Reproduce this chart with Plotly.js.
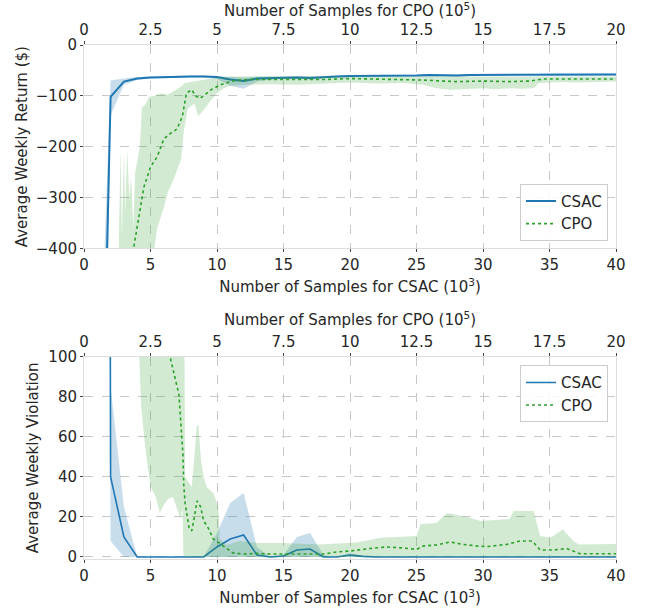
<!DOCTYPE html>
<html>
<head>
<meta charset="utf-8">
<script src="https://cdn.plot.ly/plotly-3.0.1.min.js"></script>
<style>html,body{margin:0;padding:0;background:#fff;}#chart{width:647px;height:608px;}</style>
</head>
<body>
<div id="chart"></div>
<script>
// ---------- DATA ----------
// CSAC: samples in 10^3 (bottom axis)
const csacX = [1,2,3,4,5,6,7,8,9,10,11,12,13,14,15,16,17,18,19,20,21,22,23,24,25,26,27,28,29,30,31,32,33,34,35,36,37,38,39,40];
const csacReturn   = [-1234,-102,-72,-66,-64,-63,-63,-62,-62,-63,-68,-71,-66,-65,-64,-64,-65,-63,-62,-61,-61,-61,-60,-60,-60,-59,-60,-60,-59,-59,-59,-59,-59,-59,-58,-58,-58,-58,-58,-58];
const csacReturnHi = [-800,-70,-66,-63,-62,-61,-61,-60,-60,-61,-63,-64,-62,-62,-62,-62,-62,-61,-60,-59,-59,-59,-58,-58,-58,-57,-58,-58,-57,-57,-57,-57,-57,-57,-56,-56,-56,-56,-56,-56];
const csacReturnLo = [-1700,-138,-78,-69,-66,-65,-65,-64,-64,-67,-80,-86,-72,-68,-66,-66,-68,-65,-64,-63,-63,-63,-62,-62,-62,-61,-62,-62,-61,-61,-61,-61,-61,-61,-60,-60,-60,-60,-60,-60];
const csacViol   = [3000,40,10,0,0,0,0,0,0,5,9,11,1,0,0.5,3.5,4,0,0,1,0.3,0,0,0,0,0,0,0,0,0,0,0,0,0,0,0,0,0,0,0];
const csacViolHi = [6000,85,25,0,0,0,0,0,0,12,27,32,5,0,1,10,12,1,0,2,0.5,0,0,0,0,0,0,0,0,0,0,0,0,0,0,0,0,0,0,0];
const csacViolLo = [1500,8,0,0,0,0,0,0,0,0,0,0,0,0,0,0,0,0,0,0,0,0,0,0,0,0,0,0,0,0,0,0,0,0,0,0,0,0,0,0];

// CPO: samples in 10^5 (top axis)
const cpoRetX    = [1.8,1.9,2.05,2.25,2.5,2.75,3.0,3.25,3.5,3.7,3.85,4.05,4.2,4.35,4.5,4.75,5.1,5.5,5.85,6.25,7,8,9,10,11,12,12.75,13.5,14,15,16,16.75,17.25,18,19,20];
const cpoReturn  = [-420,-390,-345,-280,-240,-220,-185,-174,-165,-140,-95,-88,-100,-105,-100,-89,-79,-72,-69,-68,-68,-68,-68,-66,-67,-67,-69,-71,-72,-71,-72,-71,-67,-67,-67,-67];
const cpoRetHiX  = [1.3,1.375,1.425,1.5,1.55,1.625,1.7,1.775,1.85,1.925,2.0,2.1,2.175,2.3,2.45,2.65,2.9,3.15,3.4,3.65,3.8,4.15,4.5,4.75,5,5.5,6,7,8,9,10,12,14,16,18,20];
const cpoReturnHi= [-420,-200,-380,-210,-330,-205,-300,-260,-360,-250,-230,-200,-122,-118,-102,-100,-95,-98,-90,-82,-75,-72,-68,-66,-64,-62,-62,-62,-62,-62,-62,-62,-63,-63,-62,-62];
const cpoRetLoX  = [1.3,2.6,2.75,3.0,3.15,3.4,3.65,3.75,3.9,4.15,4.3,4.5,4.75,5.0,5.25,5.5,6,7,8,9,10,11,12,12.75,13.25,13.75,14.5,15,15.5,16,16.5,16.9,17.1,18,18.5,20];
const cpoReturnLo= [-420,-420,-360,-320,-290,-260,-225,-170,-125,-115,-140,-128,-110,-95,-85,-80,-78,-77,-78,-76,-74,-76,-75,-78,-85,-88,-86,-85,-87,-85,-86,-85,-75,-73,-74,-72];

const cpoVioX    = [3.2,3.25,3.385,3.57,3.635,3.72,3.75,3.8,3.95,4.05,4.15,4.25,4.385,4.5,4.65,4.86,5.235,5.6,6,6.5,7,7.5,8,8.5,9,9.5,10,10.75,11.35,12,12.5,12.75,13.25,13.75,14.25,14.75,15.15,15.9,16.4,16.85,17.15,17.65,18.15,18.65,20];
const cpoViol    = [102,99,91,81,68,51,36,27,14.6,13,20,28,25,18,15,9,5.5,2,1.5,1.8,1.5,1.5,1.5,1.3,1.5,2.5,3,4.2,5,4.5,3.8,5.5,6,7.5,6.3,5.5,5.2,6.3,8,8,3.5,3.5,4.2,1.6,1.6];
const cpoVioHiX  = [2.05,3.775,3.8,3.86,4.05,4.15,4.235,4.3,4.4,4.5,4.61,4.86,5.05,5.1,5.35,5.85,6.5,7.5,8.85,10.25,11.15,12.5,12.65,13.25,13.65,14.4,14.9,16,16.15,16.9,17.15,17.55,18,18.4,18.6,20];
const cpoViolHi  = [110,110,40,38.7,35,50,65,66,48,40,35,32,25,9,6,8,7,7,6.3,7.2,9.6,10.5,16.3,17,22,20,18,19,23,23,10.5,9.6,13.8,8,6.3,6.5];
const cpoVioLoX  = [2.05,2.15,2.3,2.5,2.7,2.85,3.0,3.15,3.35,3.5,3.635,3.7,3.74,5,10,15,20];
const cpoViolLo  = [110,75,55,35,30,22,26,29,30,24,19,25,0,0,0,0,0];

const xTicksBottom = [0,5,10,15,20,25,30,35,40];
const xTicksTop = [0,2.5,5,7.5,10,12.5,15,17.5,20];

// ---------- STYLE ----------
const BLUE = '#1f77b4', GREEN = '#2ca02c';
const BLUE_FILL = 'rgba(31,119,180,0.25)', GREEN_FILL = 'rgba(44,160,44,0.22)';
const FONT = 'DejaVu Sans';
const TXT = '#262626';

function band(xHi, yHi, xLo, yLo, xa, ya, color) {
  return {
    x: xHi.concat(xLo.slice().reverse()),
    y: yHi.concat(yLo.slice().reverse()),
    xaxis: xa, yaxis: ya, mode: 'lines', fill: 'toself',
    fillcolor: color, line: {width: 0, color: 'rgba(0,0,0,0)'},
    showlegend: false, hoverinfo: 'skip'
  };
}

const traces = [
  band(csacX, csacReturnHi, csacX, csacReturnLo, 'x', 'y', BLUE_FILL),
  {x: csacX, y: csacReturn, xaxis: 'x', yaxis: 'y', mode: 'lines', name: 'CSAC',
   line: {color: BLUE, width: 2}, legend: 'legend'},
  band(cpoRetHiX, cpoReturnHi, cpoRetLoX, cpoReturnLo, 'x2', 'y', GREEN_FILL),
  {x: cpoRetX, y: cpoReturn, xaxis: 'x2', yaxis: 'y', mode: 'lines', name: 'CPO',
   line: {color: GREEN, width: 1.6, dash: 'dot'}, legend: 'legend'},

  band(csacX, csacViolHi, csacX, csacViolLo, 'x3', 'y2', BLUE_FILL),
  {x: csacX, y: csacViol, xaxis: 'x3', yaxis: 'y2', mode: 'lines', name: 'CSAC',
   line: {color: BLUE, width: 1.6}, legend: 'legend2'},
  band(cpoVioHiX, cpoViolHi, cpoVioLoX, cpoViolLo, 'x4', 'y2', GREEN_FILL),
  {x: cpoVioX, y: cpoViol, xaxis: 'x4', yaxis: 'y2', mode: 'lines', name: 'CPO',
   line: {color: GREEN, width: 1.6, dash: 'dot'}, legend: 'legend2'}
];

const axFont = {family: FONT, size: 15, color: TXT};
function xBottom(anchor, title) {
  return {
    anchor: anchor, range: [0, 40], tickmode: 'array', tickvals: xTicksBottom,
    ticks: 'outside', ticklen: 3, tickcolor: '#444',
    showline: true, linecolor: '#dddddd', mirror: true,
    showgrid: true, gridcolor: '#c8c8c8', griddash: 'dash', gridwidth: 1,
    zeroline: false, tickfont: axFont,
    title: {text: title, font: axFont, standoff: 8}
  };
}
function xTop(over, anchor, title) {
  return {
    overlaying: over, anchor: anchor, side: 'top', range: [0, 20],
    tickmode: 'array', tickvals: xTicksTop, ticktext: xTicksTop.map(String),
    ticks: 'outside', ticklen: 3, tickcolor: '#444',
    showline: false, showgrid: false, zeroline: false, tickfont: axFont,
    title: {text: title, font: axFont, standoff: 3}
  };
}

const layout = {
  width: 647, height: 608,
  margin: {l: 84, r: 31, t: 45, b: 49},
  paper_bgcolor: '#fff', plot_bgcolor: '#fff',
  font: {family: FONT, color: TXT, size: 15},
  xaxis: xBottom('y', 'Number of Samples for CSAC (10<sup>3</sup>)'),
  xaxis2: xTop('x', 'y', 'Number of Samples for CPO (10<sup>5</sup>)'),
  xaxis3: xBottom('y2', 'Number of Samples for CSAC (10<sup>3</sup>)'),
  xaxis4: xTop('x3', 'y2', 'Number of Samples for CPO (10<sup>5</sup>)'),
  yaxis: {
    domain: [0.6045, 1], range: [-400, 0], dtick: 100, anchor: 'x',
    ticks: 'outside', ticklen: 3, tickcolor: '#444',
    showline: true, linecolor: '#dddddd', mirror: true,
    showgrid: true, gridcolor: '#c8c8c8', griddash: 'dash', zeroline: false,
    tickfont: axFont, title: {text: 'Average Weekly Return ($)', font: axFont, standoff: 4}
  },
  yaxis2: {
    domain: [0, 0.3936], range: [-1, 100], tickvals: [0,20,40,60,80,100], anchor: 'x3',
    ticks: 'outside', ticklen: 3, tickcolor: '#444',
    showline: true, linecolor: '#dddddd', mirror: true,
    showgrid: true, gridcolor: '#c8c8c8', griddash: 'dash', zeroline: false,
    tickfont: axFont, title: {text: 'Average Weekly Violation', font: axFont, standoff: 6}
  },
  legend: {
    x: 0.985, y: 0.619, xanchor: 'right', yanchor: 'bottom',
    bgcolor: 'rgba(255,255,255,0.85)', bordercolor: '#cccccc', borderwidth: 1,
    font: {family: FONT, size: 15, color: TXT}, tracegroupgap: 0
  },
  legend2: {
    x: 0.985, y: 0.377, xanchor: 'right', yanchor: 'top',
    bgcolor: 'rgba(255,255,255,0.85)', bordercolor: '#cccccc', borderwidth: 1,
    font: {family: FONT, size: 15, color: TXT}, tracegroupgap: 0
  },
  showlegend: true
};

Plotly.newPlot('chart', traces, layout, {displayModeBar: false, staticPlot: true});
</script>
</body>
</html>
